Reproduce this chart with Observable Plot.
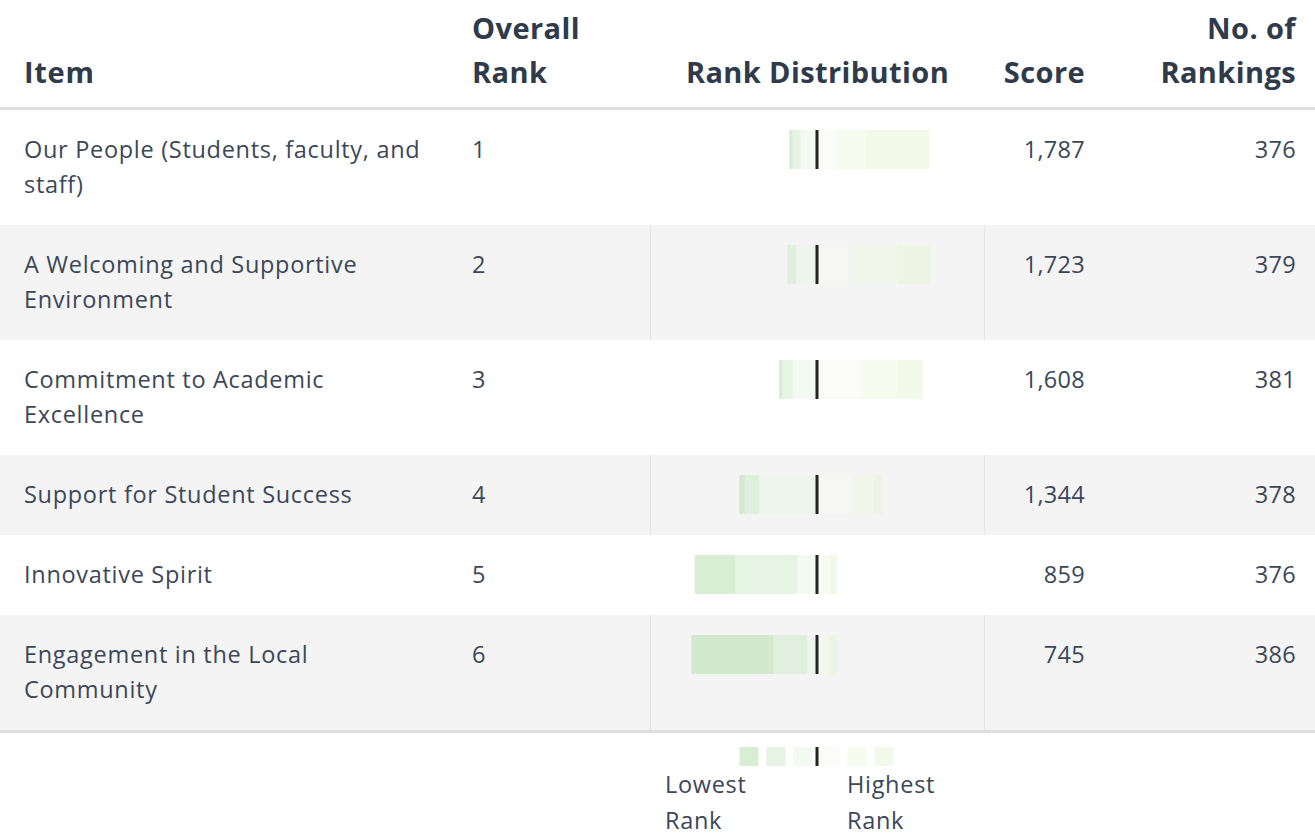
<!DOCTYPE html>
<html>
<head>
<meta charset="utf-8">
<script src="https://cdn.jsdelivr.net/npm/d3@7"></script>
<script src="https://cdn.jsdelivr.net/npm/@observablehq/plot@0.6"></script>
<style>
html, body { margin: 0; padding: 0; background: #fff; }
body { font-family: "Open Sans", sans-serif; color: #3b4759; width: 1315px; position: relative; }
table { border-collapse: collapse; table-layout: fixed; width: 1315px; }
th { font-weight: 700; font-size: 29px; letter-spacing: 0.4px; line-height: 44px; color: #2f3a4b; vertical-align: bottom;
     padding: 6px 0 13px 0; border-bottom: 3px solid #dedede; text-align: left; white-space: nowrap; }
td { font-size: 23.5px; letter-spacing: 0.3px; line-height: 35px; vertical-align: top; padding: 22px 0 23px 0; white-space: nowrap; }
tbody tr:nth-child(even) td { background: #f4f4f4; }
tbody tr:nth-child(even) td.dist { box-shadow: inset 1px 0 #e4e4e4, inset -1px 0 #e4e4e4; }
tbody tr:last-child td { border-bottom: 3px solid #dedede; }
.c1 { padding-left: 24px; letter-spacing: 0.7px; }
.c2 { padding-left: 17px; }
.c3 { text-align: center; }
.c4 { text-align: right; padding-right: 15px; }
.c5 { text-align: right; padding-right: 19px; }
td.dist { padding-top: 20px; padding-bottom: 0; }
td.dist svg { display: block; margin: 0 auto; position: relative; left: -1px; }
#legend { position: relative; height: 104px; }
#legendPlot { position: absolute; left: 729px; top: 14px; }
.lab { position: absolute; top: 33px; font-size: 23.5px; letter-spacing: 0.7px; line-height: 36px; color: #3b4759; }
</style>
</head>
<body>
<table id="tbl">
  <colgroup>
    <col style="width:455px"><col style="width:195px"><col style="width:335px"><col style="width:115px"><col style="width:215px">
  </colgroup>
  <thead>
    <tr>
      <th class="c1">Item</th>
      <th class="c2">Overall<br>Rank</th>
      <th class="c3">Rank Distribution</th>
      <th class="c4">Score</th>
      <th class="c5">No. of<br>Rankings</th>
    </tr>
  </thead>
  <tbody id="body"></tbody>
</table>
<div id="legend">
  <div id="legendPlot"></div>
  <div class="lab" style="left:665px">Lowest<br>Rank</div>
  <div class="lab" style="left:847px">Highest<br>Rank</div>
</div>
<script>
// ---- data ----
const items = [
  "Our People (Students, faculty, and staff)",
  "A Welcoming and Supportive Environment",
  "Commitment to Academic Excellence",
  "Support for Student Success",
  "Innovative Spirit",
  "Engagement in the Local Community"
];
const itemLines = [
  ["Our People (Students, faculty, and", "staff)"],
  ["A Welcoming and Supportive", "Environment"],
  ["Commitment to Academic", "Excellence"],
  ["Support for Student Success"],
  ["Innovative Spirit"],
  ["Engagement in the Local", "Community"]
];
const overallRank = [1, 2, 3, 4, 5, 6];
const scores = [1787, 1723, 1608, 1344, 859, 745];
const numRankings = [376, 379, 381, 378, 376, 386];
// number of times each item was placed at rank 1 (highest) ... rank 6 (lowest)
const rank1Counts = [167, 89, 67, 23, 18, 18];
const rank2Counts = [79, 127, 93, 56, 18, 18];
const rank3Counts = [52, 87, 122, 95, 18, 19];
const rank4Counts = [42, 55, 63, 152, 52, 25];
const rank5Counts = [22, 20, 28, 38, 163, 90];
const rank6Counts = [8, 1, 8, 14, 107, 216];
const rankLabels = ["6", "5", "4", "3", "2", "1"];           // lowest -> highest
const rankColors = ["#b1dda7", "#cde9c7", "#e7f5e3", "#f7f7f3", "#eff7e1", "#e7f3d3"];
const stackOrder = ["3", "2", "1", "4", "5", "6"];          // outward from centre

const countsByRank = {"1": rank1Counts, "2": rank2Counts, "3": rank3Counts,
                      "4": rank4Counts, "5": rank5Counts, "6": rank6Counts};
const fmt = d3.format(",");

function distPlot(i) {
  const rows = stackOrder.map(r => ({rank: r, value: (+r <= 3 ? 1 : -1) * countsByRank[r][i]}));
  return Plot.plot({
    width: 335, height: 39, margin: 0,
    style: {background: "none"},
    x: {domain: [-443, 443], axis: null},
    y: {axis: null},
    color: {domain: rankLabels, range: rankColors},
    marks: [
      Plot.barX(rows, Plot.stackX({x: "value", z: "rank", fill: "rank", fillOpacity: 0.5, order: stackOrder})),
      Plot.ruleX([0], {stroke: "#232323", strokeWidth: 3})
    ]
  });
}

const tbody = document.getElementById("body");
items.forEach((name, i) => {
  const tr = document.createElement("tr");
  const td1 = document.createElement("td"); td1.className = "c1";
  td1.innerHTML = itemLines[i].join("<br>");
  td1.title = name;
  const td2 = document.createElement("td"); td2.className = "c2"; td2.textContent = overallRank[i];
  const td3 = document.createElement("td"); td3.className = "c3 dist"; td3.appendChild(distPlot(i));
  const td4 = document.createElement("td"); td4.className = "c4"; td4.textContent = fmt(scores[i]);
  const td5 = document.createElement("td"); td5.className = "c5"; td5.textContent = fmt(numRankings[i]);
  [td1, td2, td3, td4, td5].forEach(td => tr.appendChild(td));
  tbody.appendChild(tr);
});

// legend
const slot = r => (+r >= 4 ? -(+r - 3) + 0.5 : 3.5 - +r);
const legend = Plot.plot({
  width: 175, height: 19, margin: 0,
  style: {background: "none"},
  x: {domain: [-175 / 54, 175 / 54], axis: null},
  color: {domain: rankLabels, range: rankColors},
  marks: [
    Plot.barX(rankLabels, {x1: r => slot(r) - 0.352, x2: r => slot(r) + 0.352, fill: r => r, fillOpacity: 0.5}),
    Plot.ruleX([0], {stroke: "#232323", strokeWidth: 3})
  ]
});
document.getElementById("legendPlot").appendChild(legend);
</script>
</body>
</html>
